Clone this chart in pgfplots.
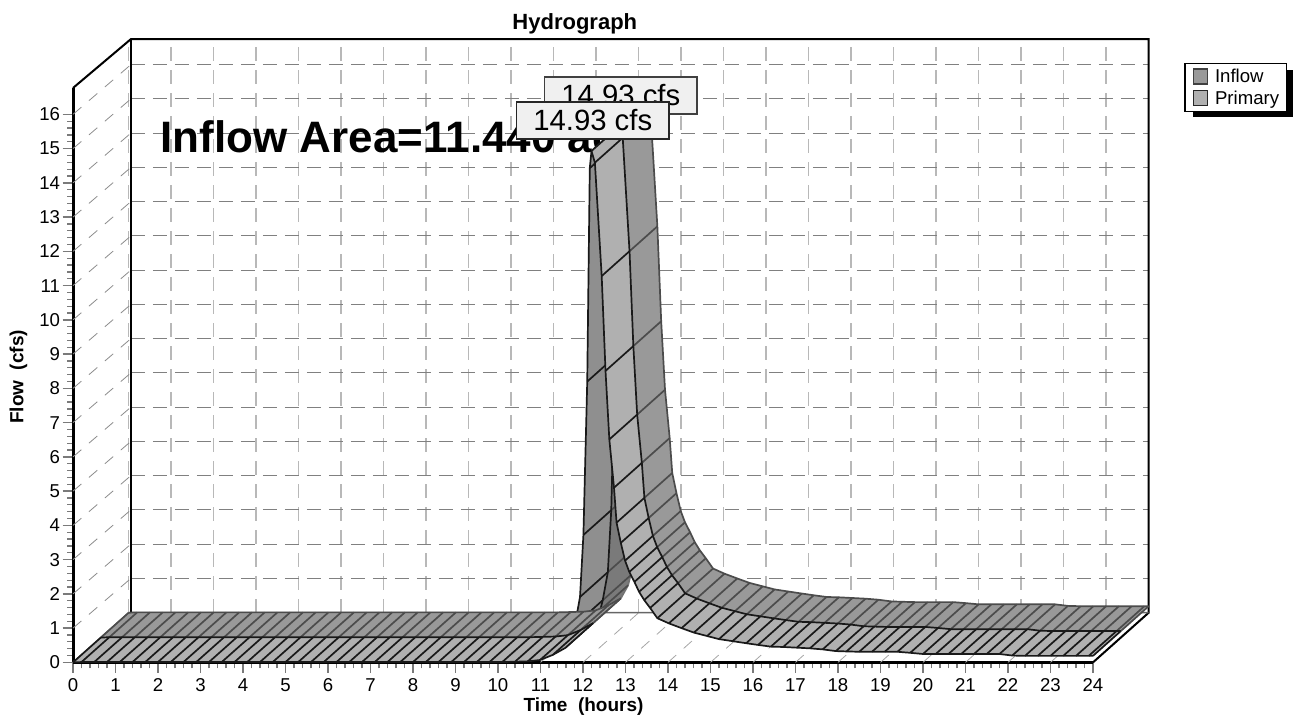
\documentclass[border=0pt]{standalone}
\usepackage{fontspec}
\setmainfont{Liberation Sans}
\usepackage{pgfplots}
\usepackage{pgfplotstable}
\pgfplotsset{compat=1.18}
\usepgfplotslibrary{fillbetween}
\definecolor{priflat}{gray}{0.69}
\definecolor{infflat}{gray}{0.60}
\definecolor{pririse}{gray}{0.56}
\definecolor{infrise}{gray}{0.48}
\pgfplotstableread{
t q
0 0
0.2 0.01
0.5 0.01
0.8 0.01
1.1 0.01
1.4 0.01
1.7 0.01
2.0 0.01
2.3 0.01
2.6 0.01
2.9 0.01
3.2 0.01
3.5 0.01
3.8 0.01
4.1 0.01
4.4 0.01
4.7 0.01
5.0 0.01
5.3 0.01
5.6 0.01
5.9 0.01
6.2 0.01
6.5 0.01
6.8 0.01
7.1 0.01
7.4 0.01
7.7 0.01
8.0 0.01
8.3 0.01
8.6 0.01
8.9 0.01
9.2 0.01
9.5 0.01
9.8 0.01
10.1 0.01
10.4 0.02
10.7 0.03
10.99 0.07
11.29 0.22
11.58 0.42
}\flatdata
\pgfplotstableread{
t q
11.58 0.42
11.75 0.80
11.81 1.09
11.93 1.91
12.01 3.72
12.10 8.20
12.16 14.43
12.20 14.93
}\risedata
\pgfplotstableread{
t q
12.20 14.93
12.28 14.59
12.44 11.28
12.53 8.51
12.62 6.51
12.73 5.10
12.79 4.08
12.89 3.49
12.99 2.97
13.09 2.64
13.21 2.35
13.32 2.06
13.44 1.82
13.58 1.59
13.75 1.29
14.02 1.14
14.32 1.00
14.61 0.87
14.92 0.77
15.20 0.68
15.52 0.62
15.84 0.56
16.12 0.51
16.42 0.46
16.71 0.45
17.03 0.43
17.34 0.41
17.64 0.38
17.95 0.33
18.2 0.32
18.5 0.31
18.8 0.31
19.1 0.31
19.4 0.31
19.7 0.28
20.0 0.245
20.3 0.245
20.6 0.245
20.9 0.245
21.2 0.245
21.5 0.245
21.8 0.245
22.1 0.20
22.4 0.19
22.7 0.19
23.0 0.19
23.3 0.19
23.6 0.19
23.9 0.19
24.0 0.19
}\falldata
\pgfplotstableread{
k z
0 0
1 0
2 0
3 0
4 0
5 0
6 0
7 0
8 0
9 0
10 0
11 0
12 0
13 0
14 0
15 0
16 0
17 0
18 0
19 0
20 0
21 0
22 0
23 0
24 0
}\xgrid
\pgfplotstableread{
k z
1 0
2 0
3 0
4 0
5 0
6 0
7 0
8 0
9 0
10 0
11 0
12 0
13 0
14 0
15 0
16 0
}\ygrid
\newcommand\rbcurve[3]{\addplot[draw=none,forget plot,name path=#3] table[x expr=\thisrow{t}+#2*1.31,y expr=\thisrow{q}+#2*1.45] {#1};}
\newcommand\rbedge[3]{\addplot[draw=#3,line width=1.7pt,line join=round,forget plot] table[x expr=\thisrow{t}+#2*1.31,y expr=\thisrow{q}+#2*1.45] {#1};}
\newcommand\rbcross[3]{\addplot[quiver={u=0.655,v=0.725},draw=#3,line width=1.7pt,forget plot] table[x expr=\thisrow{t}+#2*1.31,y expr=\thisrow{q}+#2*1.45] {#1};}
\newcommand\ribbon[2]{%
  \rbcurve{#1}{0.5}{mid}\rbcurve{#1}{1}{back}%
  \addplot[fill=#2,draw=none,forget plot] fill between[of=mid and back,on layer=main];}
\newcommand\pribbon[2]{%
  \rbcurve{#1}{0}{front}\rbcurve{#1}{0.5}{mid}%
  \addplot[fill=#2,draw=none,forget plot] fill between[of=front and mid,on layer=main];}
\begin{document}
\begin{tikzpicture}
\fill[black] (1192.7pt,602pt) rectangle (1292.7pt,649pt);
\begin{axis}[
  at={(73pt,56.6pt)},anchor=south west,scale only axis,
  width=1020pt,height=574.4pt,
  xmin=0,xmax=24,ymin=0,ymax=16.77,clip=false,
  axis lines=left,axis line style={-,line width=3pt,black},
  xtick={0,1,...,24},ytick={0,1,...,16},
  minor tick num=4,
  tick align=outside,
  major tick length=10.5pt,minor tick length=6pt,
  tick style={draw=black!52,line width=1.3pt},
  /pgf/number format/assume math mode=true,
  tick label style={font=\fontsize{18.6}{20}\selectfont},
  xticklabel style={yshift=-2pt},
  yticklabel style={xshift=1pt},
  xlabel={Time\ \ (hours)},
  xlabel style={at={(axis description cs:0.5005,-0.0851)},anchor=base,font=\fontsize{19}{22}\selectfont\bfseries},
  ylabel={Flow\ \ (cfs)},
  ylabel style={at={(axis description cs:-0.0487,0.497)},anchor=base,font=\fontsize{19}{22}\selectfont\bfseries},
  title={Hydrograph},
  title style={at={(axis description cs:0.492,1.0915)},anchor=base,font=\fontsize{22}{24}\selectfont\bfseries},
  legend style={at={(axis description cs:1.0895,1.044)},anchor=north west,draw=black,line width=1.3pt,
    font=\fontsize{18.6}{20}\selectfont,inner xsep=5.5pt,inner ysep=4pt,row sep=2.5pt,
    /tikz/every odd column/.append style={column sep=5pt}},
  legend cell align=left,
]
% walls and floor
\addplot[quiver={u=0,v=16.75},draw=black!28,line width=1.6pt,dash pattern=on 14pt off 9pt,forget plot] table[x expr=\thisrow{k}+1.31,y expr=1.45] {\xgrid};
\addplot[quiver={u=23.94,v=0},draw=black!50,line width=1pt,dash pattern=on 14pt off 8pt,forget plot] table[x expr=1.36,y expr=\thisrow{k}+1.45] {\ygrid};
\addplot[quiver={u=1.36,v=1.45},draw=black!45,line width=.8pt,dash pattern=on 11pt off 10pt,forget plot] table[x expr=0,y expr=\thisrow{k}] {\ygrid};
\addplot[quiver={u=1.31,v=1.45},draw=black!35,line width=.8pt,dash pattern=on 11pt off 10pt,forget plot] table[x expr=\thisrow{k},y expr=0] {\xgrid};
\addplot[draw=black,line width=2pt,forget plot] coordinates {(0,16.77) (1.365,18.2) (25.31,18.2) (25.31,1.45) (24,0)};
\addplot[draw=black,line width=2.2pt,forget plot] coordinates {(1.365,18.2) (1.365,1.45)};
\addplot[draw=black!60,line width=1.5pt,forget plot] coordinates {(0,0) (1.31,1.45) (25.31,1.45)};
\node[anchor=base west,font=\fontsize{44}{48}\selectfont\bfseries] at (axis cs:1.98,14.9) {Inflow Area=11.440 ac};
% rising limb first, falling limb in front of it
\ribbon{\risedata}{infrise}
\rbedge{\risedata}{1}{black!55}
\rbcross{\risedata}{0.5}{black!70}
\pribbon{\risedata}{pririse}
\rbedge{\risedata}{0.5}{black!90}
\rbedge{\risedata}{0}{black!90}
\rbcross{\risedata}{0}{black!90}
\ribbon{\flatdata}{infflat}
\rbedge{\flatdata}{1}{black!70}
\rbcross{\flatdata}{0.5}{black!70}
\pribbon{\flatdata}{priflat}
\rbedge{\flatdata}{0.5}{black!90}
\rbedge{\flatdata}{0}{black!90}
\rbcross{\flatdata}{0}{black!90}
\ribbon{\falldata}{infflat}
\rbedge{\falldata}{1}{black!70}
\rbcross{\falldata}{0.5}{black!70}
\pribbon{\falldata}{priflat}
\rbedge{\falldata}{0.5}{black!90}
\rbedge{\falldata}{0}{black!90}
\rbcross{\falldata}{0}{black!90}
% peak labels
\node[draw=black!75,fill=black!6,line width=1.5pt,minimum width=152.3pt,minimum height=36.7pt,inner sep=0pt,font=\fontsize{29.3}{32}\selectfont] at (axis cs:12.89,16.55) {14.93 cfs};
\node[draw=black!85,fill=black!6,line width=1.5pt,minimum width=152.3pt,minimum height=36.7pt,inner sep=0pt,font=\fontsize{29.3}{32}\selectfont] at (axis cs:12.23,15.82) {14.93 cfs};
\addlegendimage{legend image code/.code={\path[draw=none,opacity=0] (-3pt,0pt) -- (0pt,0pt);\filldraw[fill=infflat,draw=black!75,line width=1.3pt] (0pt,-7pt) rectangle (14pt,8pt);}}
\addlegendentry{Inflow}
\addlegendimage{legend image code/.code={\path[draw=none,opacity=0] (-3pt,0pt) -- (0pt,0pt);\filldraw[fill=priflat,draw=black!85,line width=1.3pt] (0pt,-7pt) rectangle (14pt,8pt);}}
\addlegendentry{Primary}
\end{axis}
\pgfresetboundingbox
\path[use as bounding box] (0,0) rectangle (1294pt,719pt);
\end{tikzpicture}
\end{document}
